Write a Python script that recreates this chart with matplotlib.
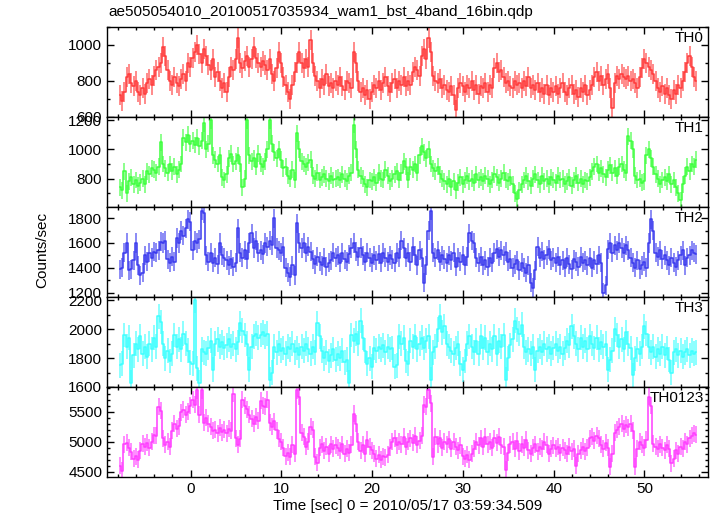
import numpy as np
import matplotlib
matplotlib.use("Agg")
import matplotlib.pyplot as plt
from matplotlib.ticker import MultipleLocator

plt.rcParams['font.family'] = ['Liberation Sans', 'DejaVu Sans']

# light curve, 0.25 s bins starting at t = -7.9 s
bin_start = -7.9
bin_width = 0.25

th0 = [
    720, 690, 740, 820, 840, 790, 770, 800, 740, 720, 760, 730, 790, 810, 780, 830,
    860, 880, 900, 990, 940, 860, 800, 780, 820, 790, 770, 810, 840, 800, 900, 880,
    930, 960, 1000, 950, 900, 980, 940, 890, 860, 920, 820, 850, 800, 760, 790, 740,
    820, 880, 860, 920, 1040, 900, 870, 910, 940, 880, 920, 990, 930, 900, 880, 910,
    890, 860, 920, 840, 800, 870, 960, 900, 820, 780, 740, 700, 780, 850, 900, 960,
    900, 870, 920, 880, 1030, 900, 830, 800, 760, 810, 780, 840, 770, 790, 760, 800,
    780, 820, 770, 750, 800, 790, 760, 960, 900, 800, 740, 760, 720, 750, 700, 740,
    780, 760, 800, 750, 790, 820, 770, 740, 790, 810, 760, 800, 780, 820, 770, 800,
    780, 850, 880, 860, 830, 940, 980, 920, 1040, 960, 830, 800, 790, 810, 760, 780,
    750, 740, 770, 720, 640, 760, 790, 770, 740, 780, 760, 800, 750, 780, 730, 770,
    760, 790, 740, 780, 760, 870, 900, 850, 860, 820, 790, 800, 770, 760, 800, 780,
    790, 760, 800, 770, 820, 760, 780, 750, 790, 740, 760, 730, 780, 720, 760, 740,
    770, 730, 760, 790, 740, 720, 760, 780, 730, 750, 710, 760, 740, 780, 720, 750,
    780, 820, 850, 800, 830, 780, 810, 840, 760, 650, 790, 830, 810, 840, 820, 810,
    830, 800, 810, 790, 760, 820, 870, 920, 900, 880, 860, 840, 800, 760, 740, 770,
    730, 760, 720, 700, 750, 730, 780, 760, 800, 850, 900, 940, 880, 820, 800,
]

th1 = [
    740, 720, 850, 700, 780, 810, 760, 790, 750, 770, 800, 760, 850, 830, 870, 860,
    840, 880, 1050, 900, 870, 840, 900, 850, 880, 830, 860, 900, 1080, 1050, 1100, 1040,
    1060, 1030, 1080, 1020, 1060, 1180, 1000, 1040, 1200, 960, 930, 900, 960, 810, 790, 830,
    940, 970, 900, 920, 960, 900, 740, 800, 1200, 960, 920, 940, 880, 970, 900, 880,
    920, 1000, 1200, 1040, 980, 940, 1000, 930, 870, 880, 820, 800, 860, 790, 1110, 1000,
    920, 900, 880, 910, 930, 820, 800, 840, 790, 810, 830, 800, 780, 820, 790, 800,
    810, 790, 830, 800, 780, 820, 840, 1170, 1000, 860, 820, 800, 760, 740, 790, 780,
    810, 770, 840, 800, 790, 860, 820, 780, 800, 830, 850, 790, 840, 920, 880, 790,
    880, 860, 900, 840, 960, 1020, 980, 940, 1000, 900, 870, 850, 880, 830, 800, 780,
    760, 800, 740, 780, 720, 770, 810, 760, 790, 820, 780, 800, 770, 830, 790, 810,
    780, 820, 800, 760, 790, 830, 810, 770, 800, 840, 790, 780, 810, 760, 700, 660,
    720, 760, 790, 820, 780, 750, 800, 830, 790, 760, 820, 780, 800, 760, 810, 790,
    770, 820, 790, 800, 760, 780, 810, 750, 790, 820, 770, 800, 760, 790, 780, 810,
    850, 880, 900, 840, 870, 830, 810, 860, 890, 840, 870, 820, 880, 900, 860, 840,
    1090, 1060, 1000, 820, 790, 800, 770, 780, 960, 1000, 940, 880, 830, 800, 760, 790,
    810, 780, 830, 760, 790, 740, 700, 650, 760, 820, 880, 850, 900, 880, 930,
]

th2 = [
    1390, 1400, 1520, 1600, 1380, 1390, 1460, 1600, 1420, 1340, 1360, 1500, 1450, 1520, 1480, 1530,
    1520, 1540, 1610, 1600, 1620, 1470, 1440, 1490, 1450, 1640, 1600, 1700, 1660, 1720, 1790, 1770,
    1540, 1620, 1600, 1630, 1860, 1840, 1500, 1450, 1520, 1440, 1480, 1430, 1600, 1500, 1480, 1460,
    1420, 1470, 1410, 1440, 1720, 1520, 1480, 1540, 1470, 1600, 1680, 1560, 1620, 1520, 1540, 1510,
    1600, 1570, 1620, 1580, 1800, 1560, 1540, 1520, 1570, 1400, 1360, 1330, 1420, 1340, 1760, 1600,
    1560, 1600, 1520, 1570, 1530, 1470, 1430, 1490, 1450, 1420, 1480, 1410, 1440, 1460, 1520, 1480,
    1500, 1440, 1520, 1470, 1450, 1510, 1560, 1600, 1530, 1490, 1560, 1500, 1450, 1520, 1480, 1440,
    1500, 1460, 1510, 1440, 1520, 1480, 1450, 1500, 1470, 1440, 1520, 1480, 1620, 1560, 1480, 1520,
    1450, 1570, 1500, 1420, 1540, 1480, 1280, 1420, 1700, 1860, 1520, 1480, 1540, 1450, 1500, 1470,
    1440, 1500, 1460, 1520, 1410, 1480, 1450, 1500, 1420, 1490, 1680, 1620, 1600, 1480, 1440, 1490,
    1420, 1460, 1410, 1480, 1440, 1520, 1550, 1490, 1540, 1500, 1530, 1450, 1470, 1400, 1430, 1460,
    1380, 1440, 1400, 1360, 1420, 1280, 1240, 1380, 1570, 1480, 1530, 1470, 1500, 1550, 1460, 1480,
    1440, 1490, 1420, 1460, 1400, 1480, 1430, 1390, 1470, 1450, 1410, 1490, 1440, 1460, 1420, 1480,
    1400, 1460, 1430, 1500, 1440, 1200, 1260, 1550, 1600, 1520, 1580, 1540, 1600, 1560, 1520, 1580,
    1540, 1480, 1440, 1400, 1460, 1390, 1420, 1450, 1400, 1600, 1790, 1700, 1520, 1490, 1540, 1470,
    1500, 1460, 1420, 1480, 1440, 1410, 1460, 1500, 1540, 1420, 1480, 1500, 1540, 1520, 1510,
]

th3 = [
    1750, 1760, 1960, 1880, 1940, 1630, 1820, 1900, 1860, 1950, 1830, 1880, 1810, 1900, 1860, 1940,
    1880, 2090, 2050, 1900, 1800, 1850, 1780, 1830, 1960, 1880, 1930, 1860, 1970, 1900, 1850, 1770,
    1760, 2200, 1730, 1630, 1860, 1840, 1830, 1870, 1920, 1720, 1900, 1930, 1880, 1910, 1870, 1890,
    1930, 1880, 1900, 1860, 1910, 2040, 1990, 1960, 1900, 1720, 1880, 1950, 1970, 1940, 1960, 1980,
    1950, 1970, 1650, 1700, 1880, 1840, 1900, 1850, 1870, 1830, 1880, 1860, 1900, 1840, 1870, 1820,
    1880, 1850, 1900, 1860, 1830, 1880, 1840, 2040, 1950, 1850, 1800, 1840, 1780, 1820, 1860, 1790,
    1830, 1800, 1850, 1770, 1790, 1630, 1960, 1920, 1970, 1900, 2060, 1940, 1850, 1760, 1800, 1740,
    1870, 1850, 1880, 1860, 1890, 1840, 1880, 1860, 1870, 1740, 1750, 1950, 1900, 1940, 1780, 1760,
    1920, 1880, 1950, 1860, 1900, 1940, 1870, 1920, 1950, 1650, 1840, 1880, 2000, 2090, 1980, 2020,
    1900, 1880, 1850, 1830, 1870, 1900, 1760, 1720, 1780, 1900, 1950, 1880, 1840, 1920, 1830, 1950,
    1870, 1940, 1840, 1900, 1860, 1950, 1830, 1920, 1880, 1960, 1650, 1800, 1890, 1930, 2060, 2000,
    1970, 2030, 1880, 1840, 1860, 1830, 1880, 1720, 1850, 1880, 1840, 1900, 1860, 1880, 1830, 1870,
    1900, 1850, 1880, 1830, 1870, 1920, 1890, 2020, 1950, 1900, 1860, 1940, 1880, 1920, 1860, 1950,
    1900, 1870, 1940, 1860, 1910, 1880, 1900, 1720, 1790, 1850, 2000, 1960, 1880, 1930, 1860, 1980,
    1900, 1870, 1680, 1800, 1860, 1830, 1880, 2020, 1970, 1880, 1840, 1880, 1810, 1860, 1830, 1880,
    1820, 1870, 1790, 1700, 1840, 1860, 1820, 1850, 1810, 1840, 1860, 1820, 1850, 1830, 1840,
]

th0123 = [
    4600, 4520, 4960, 4980, 4900, 4830, 4720, 4760, 4700, 4850, 4970, 4920, 4980, 4900, 5000, 5110,
    5100, 5580, 5520, 5060, 4950, 5000, 4920, 5180, 5300, 5220, 5260, 5490, 5530, 5450, 5500, 5600,
    5700, 5620, 5860, 5450, 5860, 5320, 5400, 5300, 5250, 5180, 5200, 5140, 5230, 5160, 5200, 5140,
    5220, 5180, 5800, 5060, 4950, 5050, 5700, 5600, 5540, 5450, 5380, 5300, 5420, 5350, 5680, 5600,
    5580, 5700, 5320, 5250, 5340, 5190, 5050, 5000, 4900, 4760, 4820, 4750, 4950, 4800, 5860, 5750,
    5150, 5080, 4920, 5000, 5250, 5200, 4750, 4650, 4900, 4960, 4850, 4920, 4800, 4960, 4880, 4940,
    4900, 4850, 4960, 4800, 4880, 4820, 4950, 5470, 5300, 5000, 4850, 4950, 4800, 5030, 4920, 4860,
    4800, 4720, 4780, 4700, 4760, 4740, 4780, 4900, 5000, 5060, 4940, 5000, 4960, 5080, 4920, 5000,
    5060, 4980, 5100, 4950, 5020, 5100, 5620, 5580, 5860, 5640, 4750, 5080, 4960, 5060, 4900, 5000,
    4960, 5040, 4880, 5000, 4920, 4860, 4940, 4760, 4720, 4780, 4700, 4800, 4880, 5000, 4940, 5060,
    4920, 5080, 4960, 5000, 4900, 5060, 4980, 5080, 4940, 4920, 4530, 4820, 4960, 5000, 4880, 5020,
    4840, 4960, 4900, 5030, 4860, 4800, 4900, 4960, 4840, 4920, 4880, 5000, 4950, 4800, 4880, 4940,
    4880, 4920, 4820, 4900, 4860, 4800, 4920, 4840, 4880, 4600, 4800, 4860, 4920, 4840, 4900, 5060,
    5080, 5020, 5100, 5060, 4950, 4880, 4980, 4900, 4580, 4800, 5150, 5200, 5250, 5300, 5220, 5280,
    5240, 5300, 5180, 4580, 4880, 5000, 4950, 4900, 5030, 5750, 5600, 4970, 4920, 4880, 4960, 4900,
    4860, 4950, 4880, 4640, 4720, 4860, 4800, 4920, 4880, 5000, 4960, 5060, 5100, 5140, 5120,
]

# typical 1-sigma error per panel (counts/sec)
errors = [56, 58, 77, 86, 141]
names = ['TH0', 'TH1', 'TH2', 'TH3', 'TH0123']
series = [th0, th1, th2, th3, th0123]
colors = ['#ff3a3a', '#3cff3c', '#3a3aee', '#3cffff', '#ff3cff']
ylims = [(600, 1100), (605, 1222), (1165, 1890), (1600, 2223), (4412, 5912)]
major = [200, 200, 200, 200, 500]
minor = [100, 100, 100, 100, 100]

fig = plt.figure(figsize=(7.17, 5.16), dpi=100)
W, H = 717, 516
left, right, top, ph = 107, 708, 27, 90

axes = []
for i in range(5):
    y0 = top + ph * (i + 1)
    ax = fig.add_axes([left / W, 1 - y0 / H, (right - left) / W, ph / H])
    axes.append(ax)
    vals = np.array(series[i], dtype=float)
    t = bin_start + bin_width * (np.arange(len(vals)) + 0.5)
    ax.errorbar(t, vals, yerr=errors[i], fmt='none', ecolor=colors[i],
                elinewidth=1.1, alpha=0.75, capsize=0)
    ax.step(t, vals, where='mid', color=colors[i], lw=1.1)
    ax.set_xlim(-9.2, 57.0)
    ax.set_ylim(*ylims[i])
    ax.xaxis.set_major_locator(MultipleLocator(10))
    ax.xaxis.set_minor_locator(MultipleLocator(2))
    ax.yaxis.set_major_locator(MultipleLocator(major[i]))
    ax.yaxis.set_minor_locator(MultipleLocator(minor[i]))
    ax.tick_params(which='both', direction='in', top=True, right=True,
                   labelsize=11, colors='black')
    ax.tick_params(which='major', length=5, width=1)
    ax.tick_params(which='minor', length=2.5, width=1)
    for s in ax.spines.values():
        s.set_linewidth(1.0)
    ax.text(0.993, 0.96, names[i], transform=ax.transAxes, ha='right',
            va='top', fontsize=11)
    if i < 4:
        ax.tick_params(labelbottom=False)

axes[-1].set_xlabel('Time [sec] 0 = 2010/05/17 03:59:34.509', fontsize=11, labelpad=2)
fig.text(42 / W, 1 - 250 / H, 'Counts/sec', rotation=90, ha='center', va='center', fontsize=11)
fig.text(108 / W, 1 - 12 / H, 'ae505054010_20100517035934_wam1_bst_4band_16bin.qdp',
         ha='left', va='center', fontsize=11)

fig.savefig('out.png', dpi=100)
